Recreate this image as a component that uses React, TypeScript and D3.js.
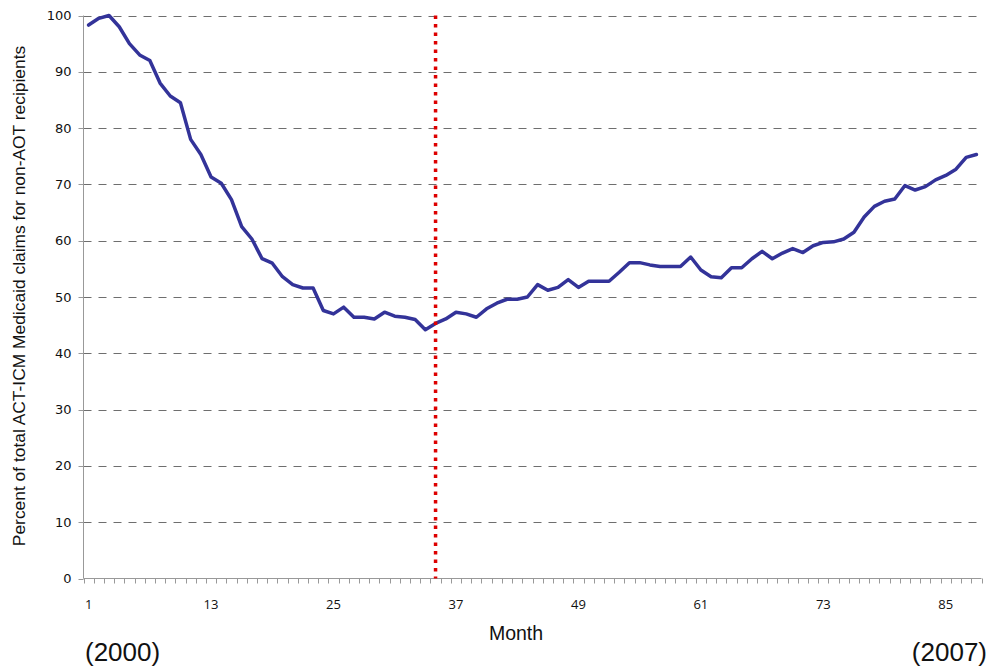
import React from "react";
import * as d3 from "d3";

const months: number[] = d3.range(1, 89);
const values: number[] = [
  98.3, 99.5, 100, 98, 95, 93, 92, 88, 85.7, 84.5,
  78, 75.3, 71.3, 70.2, 67.3, 62.5, 60.3, 56.8, 56, 53.6,
  52.2, 51.6, 51.6, 47.6, 47.0, 48.2, 46.4, 46.4, 46.1, 47.3,
  46.6, 46.4, 46.0, 44.2, 45.3, 46.1, 47.3, 47.0, 46.4, 47.9,
  48.9, 49.6, 49.6, 50.0, 52.2, 51.2, 51.7, 53.1, 51.7, 52.8,
  52.8, 52.8, 54.4, 56.1, 56.1, 55.7, 55.4, 55.4, 55.4, 57.1,
  54.8, 53.6, 53.4, 55.2, 55.2, 56.8, 58.1, 56.8, 57.8, 58.6,
  57.9, 59.1, 59.7, 59.8, 60.3, 61.5, 64.2, 66.1, 67.0, 67.4,
  69.8, 69.0, 69.6, 70.8, 71.6, 72.7, 74.8, 75.3,
];
const yTicks: number[] = [0, 10, 20, 30, 40, 50, 60, 70, 80, 90, 100];
const xTickLabels: number[] = [1, 13, 25, 37, 49, 61, 73, 85];
const markerMonth = 35;

const W = 989;
const H = 667;
const left = 83.5;
const right = 981.5;
const top = 15.5;
const bottom = 578.5;

export default function App() {
  const x = d3.scaleBand<number>().domain(months).range([left, right]).paddingInner(0).paddingOuter(0);
  const cx = (m: number) => (x(m) as number) + x.bandwidth() / 2;
  const y = d3.scaleLinear().domain([0, 100]).range([bottom, top]);
  const line = d3
    .line<number>()
    .x((_, i) => cx(months[i]))
    .y((d) => y(d));

  const boundaries = d3.range(0, months.length + 1).map((i) => left + i * x.bandwidth());

  return (
    <svg
      width={W}
      height={H}
      style={{ position: "absolute", left: 0, top: 0, background: "#fff" }}
    >
      {/* gridlines */}
      {yTicks
        .filter((t) => t > 0)
        .map((t) => (
          <line
            key={"g" + t}
            x1={left}
            x2={right}
            y1={Math.round(y(t)) + 0.5}
            y2={Math.round(y(t)) + 0.5}
            stroke="#6e6e6e"
            strokeWidth={1}
            strokeDasharray="8,7"
          />
        ))}
      {/* y axis */}
      <line x1={left} x2={left} y1={top} y2={bottom} stroke="#999" strokeWidth={1} />
      {yTicks.map((t) => (
        <g key={"y" + t}>
          <line
            x1={left - 5}
            x2={left}
            y1={Math.round(y(t)) + 0.5}
            y2={Math.round(y(t)) + 0.5}
            stroke="#999"
          />
          <text
            x={71.5}
            y={y(t)}
            dy="0.35em"
            textAnchor="end"
            fontFamily="DejaVu Sans, Verdana, sans-serif"
            fontSize={13}
            fill="#111"
          >
            {t}
          </text>
        </g>
      ))}
      {/* x axis */}
      <line x1={left} x2={right} y1={bottom} y2={bottom} stroke="#999" strokeWidth={1} />
      {boundaries.map((b, i) => (
        <line
          key={"xt" + i}
          x1={Math.round(b) + 0.5}
          x2={Math.round(b) + 0.5}
          y1={bottom}
          y2={bottom + 5}
          stroke="#999"
        />
      ))}
      {xTickLabels.map((m) => (
        <text
          key={"xl" + m}
          x={cx(m)}
          y={609}
          textAnchor="middle"
          fontFamily="Open Sans, Lato, sans-serif"
          fontSize={13}
          fill="#111"
        >
          {m}
        </text>
      ))}
      {/* series */}
      <path
        d={line(values) || ""}
        fill="none"
        stroke="#333399"
        strokeWidth={3.5}
        strokeLinejoin="round"
        strokeLinecap="round"
      />
      {/* marker line */}
      <line
        x1={cx(markerMonth)}
        x2={cx(markerMonth)}
        y1={top}
        y2={bottom}
        stroke="#dd0000"
        strokeWidth={3.5}
        strokeDasharray="3.5,5"
      />
      {/* titles */}
      <text
        transform={`translate(25,296) rotate(-90)`}
        textAnchor="middle"
        fontFamily="Liberation Sans, Arial, sans-serif"
        fontSize={17.4}
        fill="#111"
      >
        Percent of total ACT-ICM Medicaid claims for non-AOT recipients
      </text>
      <text
        x={516}
        y={640}
        textAnchor="middle"
        fontFamily="Liberation Sans, Arial, sans-serif"
        fontSize={19.5}
        fill="#111"
      >
        Month
      </text>
      <text
        x={85}
        y={661}
        fontFamily="Liberation Sans, Arial, sans-serif"
        fontSize={26}
        fill="#111"
      >
        (2000)
      </text>
      <text
        x={987}
        y={661}
        textAnchor="end"
        fontFamily="Liberation Sans, Arial, sans-serif"
        fontSize={26}
        fill="#111"
      >
        (2007)
      </text>
    </svg>
  );
}
